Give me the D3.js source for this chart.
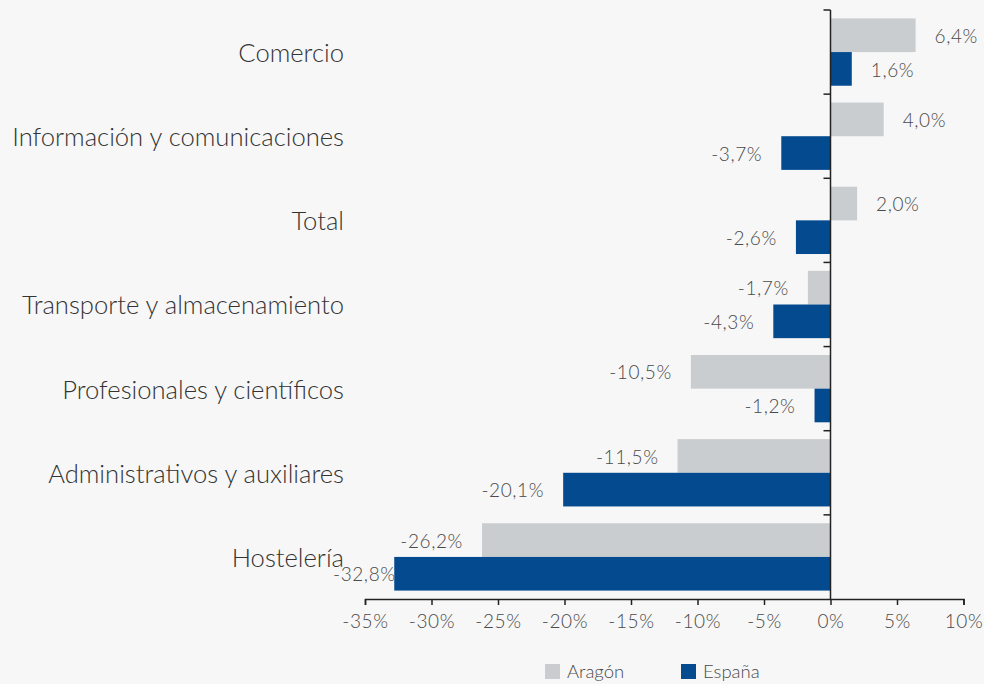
<!DOCTYPE html>
<html><head><meta charset="utf-8">
<script src="https://cdn.jsdelivr.net/npm/d3@7"></script>
<style>
html,body{margin:0;padding:0;background:#f7f7f7;}
svg{display:block;font-family:Lato, "Open Sans", sans-serif;}
</style></head>
<body>
<svg id="chart" width="984" height="684"></svg>
<script>
const categories = ["Comercio","Información y comunicaciones","Total","Transporte y almacenamiento","Profesionales y científicos","Administrativos y auxiliares","Hostelería"];
const aragon = [6.4, 4.0, 2.0, -1.7, -10.5, -11.5, -26.2];
const espana = [1.6, -3.7, -2.6, -4.3, -1.2, -20.1, -32.8];
const tickValues = [-35,-30,-25,-20,-15,-10,-5,0,5,10];
const tickLabels = ["-35%","-30%","-25%","-20%","-15%","-10%","-5%","0%","5%","10%"];
const seriesNames = ["Aragón","España"];
const colors = ["#c9cdd0","#034a8f"];

const svg = d3.select("#chart");
const x = d3.scaleLinear().domain([-35,10]).range([365,963.5]);
const y = d3.scaleBand().domain(categories).range([10,599]).padding(0);
const bw = y.bandwidth();
const fmt = v => d3.format(".1f")(v).replace(".", ",").replace("−","-") + "%";

const series = [aragon, espana];
series.forEach((vals, si) => {
  const g = svg.append("g");
  g.selectAll("rect").data(vals).join("rect")
    .attr("x", d => Math.min(x(0), x(d)))
    .attr("width", d => Math.abs(x(d) - x(0)))
    .attr("y", (d,i) => y(categories[i]) + bw*(0.1 + 0.4*si))
    .attr("height", bw*0.4)
    .attr("fill", colors[si]);
  const lbl = g.selectAll("text").data(vals).join("text")
    .attr("y", (d,i) => y(categories[i]) + bw*(0.3 + 0.4*si) + 1)
    .attr("dy","0.35em")
    .attr("font-size", 19).attr("font-weight", 300).attr("letter-spacing", 0.6)
    .attr("fill", "#4a4a4a")
    .text(d => fmt(d));
  lbl.each(function(d){
    const t = d3.select(this);
    if (d >= 0) { t.attr("text-anchor","start").attr("x", x(d) + 19); }
    else {
      const w = this.getComputedTextLength();
      t.attr("text-anchor","end").attr("x", Math.max(x(d) - 19, 333 + w));
    }
  });
});

// Y axis
const yAxis = svg.append("g").attr("transform", `translate(${x(0)},0)`);
yAxis.append("line").attr("x1",0).attr("x2",0).attr("y1",10).attr("y2",599).attr("stroke","#222").attr("stroke-width",1.5);
yAxis.selectAll("line.t").data(categories).join("line").attr("class","t")
  .attr("x1",-7).attr("x2",0).attr("y1", d => y(d)).attr("y2", d => y(d))
  .attr("stroke","#222").attr("stroke-width",1.5);

// category labels
svg.append("g").selectAll("text").data(categories).join("text")
  .attr("x", 344).attr("y", d => y(d) + bw/2 + 1).attr("dy","0.35em")
  .attr("text-anchor","end").attr("font-size", 25.6).attr("font-weight",300)
  .attr("fill","#333").text(d => d);

// X axis
const xAxis = d3.axisBottom(x).tickValues(tickValues).tickFormat((d,i) => tickLabels[i]).tickSize(6).tickPadding(10);
const xg = svg.append("g").attr("transform","translate(0,599)").call(xAxis);
xg.select(".domain").attr("stroke","#222").attr("stroke-width",1.5);
xg.selectAll(".tick line").attr("stroke","#222").attr("stroke-width",1.5);
xg.selectAll(".tick text").attr("font-size",19).attr("font-weight",300).attr("letter-spacing",0.6).attr("fill","#4a4a4a").attr("font-family","Lato, sans-serif");

// legend
const leg = svg.append("g");
const legX = [545, 681];
seriesNames.forEach((n,i) => {
  leg.append("rect").attr("x", legX[i]).attr("y", 664).attr("width",15).attr("height",15).attr("fill",colors[i]);
  leg.append("text").attr("x", legX[i] + 22).attr("y", 672).attr("dy","0.35em")
    .attr("font-size",18.5).attr("font-weight",300).attr("fill","#4a4a4a").text(n);
});
</script>
</body></html>
